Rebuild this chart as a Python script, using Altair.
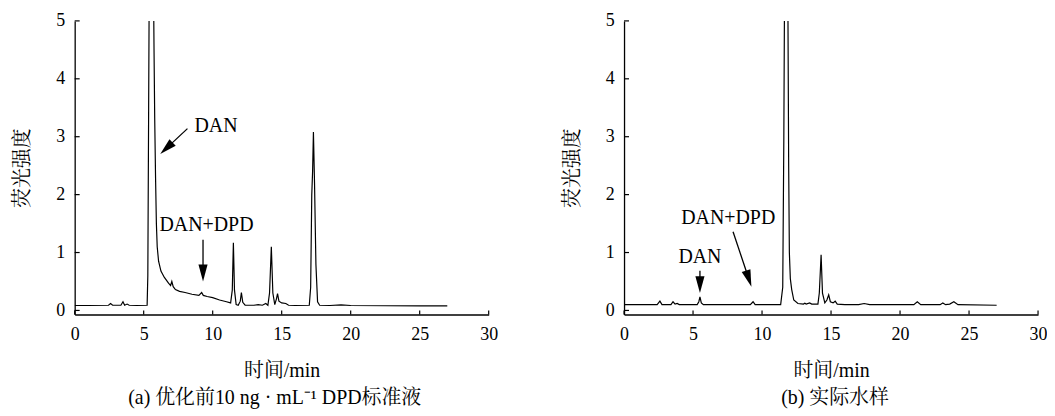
import math
import altair as alt
import pandas as pd

# ---------------- data ----------------
# (a) standard solution chromatogram
time_a = [0, 1.0, 2.45, 2.6, 2.75, 3.35, 3.5, 3.62, 3.8, 3.95, 4.5, 5.25, 5.3, 5.36, 5.42,
          5.55, 5.68, 5.75, 5.8, 5.86, 5.92, 5.98, 6.08, 6.25, 6.5, 6.8, 6.95, 7.04, 7.14,
          7.3, 7.6, 8.0, 8.5, 9.0, 9.2, 9.32, 9.6, 10.0, 10.5, 11.0, 11.3, 11.42, 11.5,
          11.58, 11.7, 11.85, 12.0, 12.08, 12.18, 12.35, 13.0, 13.3, 13.6, 13.85, 14.0,
          14.12, 14.25, 14.36, 14.5, 14.62, 14.7, 14.8, 15.0, 15.3, 15.5, 16.0, 17.0,
          17.1, 17.18, 17.24, 17.3, 17.38, 17.48, 17.6, 17.75, 18.5, 19.3, 20.0, 25.0, 27.0]
sig_a = [0.085, 0.085, 0.09, 0.12, 0.09, 0.09, 0.15, 0.09, 0.11, 0.09, 0.085, 0.09, 0.6,
         3.5, 6.5, 7.5, 6.5, 4.5, 3.3, 2.3, 1.5, 1.1, 0.85, 0.68, 0.57, 0.47, 0.43, 0.5,
         0.41, 0.36, 0.33, 0.31, 0.28, 0.26, 0.31, 0.26, 0.24, 0.22, 0.18, 0.15, 0.13, 0.35,
         1.17, 0.35, 0.1, 0.09, 0.16, 0.31, 0.14, 0.09, 0.09, 0.1, 0.09, 0.12, 0.09, 0.3,
         1.1, 0.3, 0.1, 0.2, 0.29, 0.16, 0.13, 0.12, 0.09, 0.085, 0.09, 0.4, 2.0, 2.4,
         3.08, 2.2, 0.8, 0.15, 0.09, 0.085, 0.095, 0.085, 0.08, 0.08]

# (b) real water sample chromatogram
time_b = [0, 2.4, 2.6, 2.75, 3.4, 3.55, 3.7, 3.85, 4.0, 5.3, 5.42, 5.5, 5.6, 5.75, 9.15,
          9.35, 9.5, 11.35, 11.5, 11.58, 11.66, 11.8, 11.88, 11.93, 11.98, 12.05, 12.15,
          12.3, 12.6, 13.0, 13.1, 13.2, 13.45, 13.6, 14.05, 14.15, 14.28, 14.38, 14.55,
          14.7, 14.83, 14.95, 15.15, 15.3, 15.45, 16.0, 17.0, 17.4, 17.8, 21.0, 21.25,
          21.5, 22.9, 23.1, 23.3, 23.6, 23.9, 24.2, 27.0]
sig_b = [0.1, 0.1, 0.16, 0.1, 0.1, 0.15, 0.11, 0.12, 0.1, 0.1, 0.15, 0.235, 0.13, 0.1,
         0.1, 0.15, 0.1, 0.1, 0.4, 3.0, 7.0, 7.5, 5.0, 2.5, 1.0, 0.55, 0.36, 0.18, 0.12,
         0.11, 0.125, 0.11, 0.13, 0.11, 0.11, 0.3, 0.96, 0.3, 0.13, 0.18, 0.27, 0.15, 0.13,
         0.16, 0.11, 0.1, 0.1, 0.12, 0.1, 0.1, 0.15, 0.1, 0.1, 0.13, 0.1, 0.11, 0.15, 0.1,
         0.09]

# annotations (text and arrows) in data units
lab_a = ["DAN", "DAN+DPD"]
lab_a_t = [10.24, 9.55]
lab_a_v = [3.18, 1.48]
arr_a_t0 = [8.17, 9.3]
arr_a_v0 = [3.14, 1.22]
arr_a_t1 = [6.2, 9.3]
arr_a_v1 = [2.70, 0.50]

lab_b = ["DAN", "DAN+DPD"]
lab_b_t = [5.5, 7.55]
lab_b_v = [0.93, 1.59]
arr_b_t0 = [5.5, 7.9]
arr_b_v0 = [0.687, 1.36]
arr_b_t1 = [5.5, 9.23]
arr_b_v1 = [0.30, 0.41]

x_ticks = [0, 5, 10, 15, 20, 25, 30]
y_ticks = [0, 1, 2, 3, 4, 5]

caption_a = "(a) 优化前10 ng · mL⁻¹ DPD标准液"
caption_b = "(b) 实际水样"
x_title = "时间/min"
y_title = "荧光强度"

# ---------------- layout constants ----------------
W, H = 416, 295
Y_MIN, Y_MAX = -0.07, 5
PX_X = W / 30.0
PX_Y = H / (Y_MAX - Y_MIN)
HEAD_LEN = 17
HEAD_SIZE = (2 * HEAD_LEN) ** 2
HEAD_PATH = "M0,0L0.27,1L-0.27,1Z"

SERIF = "Liberation Serif"
MIXED = "Liberation Serif, Noto Serif CJK SC, Noto Sans CJK SC"


def arrows_df(t0, v0, t1, v1):
    rows = []
    for a, b, c, d in zip(t0, v0, t1, v1):
        dx = (c - a) * PX_X
        dy = -(d - b) * PX_Y
        ln = math.hypot(dx, dy)
        ang = math.degrees(math.atan2(dx, -dy)) % 360
        f = max(0.0, (ln - HEAD_LEN * 0.6) / ln)
        rows.append(dict(t0=a, v0=b, te=a + (c - a) * f, ve=b + (d - b) * f,
                         t1=c, v1=d, ang=ang))
    return pd.DataFrame(rows)


def panel(t, s, lab, lab_t, lab_v, at0, av0, at1, av1, caption, dx):
    xs = alt.Scale(domain=[0, 30], nice=False, zero=False)
    ys = alt.Scale(domain=[Y_MIN, Y_MAX], nice=False, zero=False)
    xax = alt.Axis(values=x_ticks, title=x_title, labelFlush=False, titlePadding=17,
                   labelPadding=11)
    yax = alt.Axis(values=y_ticks, title=y_title, labelFlush=False, titlePadding=23,
                   labelPadding=10)

    def X(f):
        return alt.X(f, scale=xs, axis=xax)

    def Y(f):
        return alt.Y(f, scale=ys, axis=yax)

    df = pd.DataFrame({"t": t, "v": s})
    line = alt.Chart(df).mark_line(clip=True, color="black", strokeWidth=1.2).encode(
        x=X("t:Q"), y=Y("v:Q"),
    )

    ldf = pd.DataFrame({"label": lab, "t": lab_t, "v": lab_v})
    text = alt.Chart(ldf).mark_text(font=SERIF, fontSize=20, color="black",
                                    align="center", baseline="middle").encode(
        x=X("t:Q"), y=Y("v:Q"), text="label:N",
    )

    adf = arrows_df(at0, av0, at1, av1)
    shaft = alt.Chart(adf).mark_rule(color="black", strokeWidth=1.3).encode(
        x=X("t0:Q"), y=Y("v0:Q"), x2="te:Q", y2="ve:Q",
    )
    head = alt.Chart(adf).mark_point(shape=HEAD_PATH, filled=True, color="black",
                                     opacity=1, size=HEAD_SIZE, strokeWidth=0).encode(
        x=X("t1:Q"), y=Y("v1:Q"), angle=alt.Angle("ang:Q", scale=None),
    )

    ytk = alt.Chart(pd.DataFrame({"v": y_ticks})).mark_rule(
        color="black", strokeWidth=1.2).encode(
        y=Y("v:Q"), x=alt.value(0), x2=alt.value(5),
    )
    xtk = alt.Chart(pd.DataFrame({"t": x_ticks})).mark_rule(
        color="black", strokeWidth=1.2).encode(
        x=X("t:Q"), y=alt.value(H), y2=alt.value(H - 4),
    )

    return alt.layer(line, shaft, head, text, ytk, xtk).properties(
        width=W, height=H,
        title=alt.TitleParams(text=caption, orient="bottom", frame="group",
                              anchor="middle", offset=8, dx=dx, font=MIXED,
                              fontSize=20, fontWeight="normal", color="black"),
    )


pa = panel(time_a, sig_a, lab_a, lab_a_t, lab_a_v, arr_a_t0, arr_a_v0, arr_a_t1,
           arr_a_v1, caption_a, -7)
pb = panel(time_b, sig_b, lab_b, lab_b_t, lab_b_v, arr_b_t0, arr_b_v0, arr_b_t1,
           arr_b_v1, caption_b, 4)

chart = alt.hconcat(pa, pb, spacing=136, bounds="flush").properties(
    padding={"left": 5, "top": 3, "right": 0, "bottom": 0},
    background="white",
).configure_view(stroke=None).configure_axis(
    domainColor="black", domainWidth=1.3, labelColor="black", labelFont=SERIF,
    labelFontSize=18, titleColor="black", titleFont=MIXED, titleFontSize=20,
    titleFontWeight="normal", grid=False, ticks=False, tickSize=0,
)

chart.save("out.html", embed_options={"renderer": "svg", "actions": False})
